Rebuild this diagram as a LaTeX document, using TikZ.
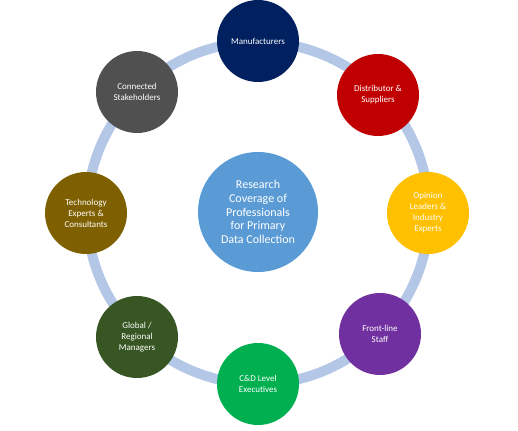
\documentclass[tikz,border=0pt]{standalone}
\usepackage{fontspec}
\setmainfont{Carlito}
\definecolor{ringc}{HTML}{B4C7E7}
\definecolor{cmanu}{HTML}{002060}
\definecolor{cdist}{HTML}{C00000}
\definecolor{copin}{HTML}{FFC000}
\definecolor{cfront}{HTML}{7030A0}
\definecolor{ccd}{HTML}{00B050}
\definecolor{cglob}{HTML}{375623}
\definecolor{ctech}{HTML}{7F6000}
\definecolor{cconn}{HTML}{505050}
\definecolor{ccent}{HTML}{5B9BD5}
\begin{document}
\begin{tikzpicture}[x=1pt,y=-1pt,
  member/.style={circle,minimum size=82pt,inner sep=0pt,text=white,align=center,
    font=\fontsize{9}{11}\selectfont},
  hub/.style={circle,minimum size=120pt,inner sep=0pt,text=white,align=center,
    fill=ccent,font=\fontsize{12}{13.8}\selectfont}]
\useasboundingbox (0,0) rectangle (518,430);
\coordinate (o) at (258,213);
\draw[ringc,line width=10pt] (o) circle[radius=171pt];
\node[hub] (center) at (258,212) {Research\\Coverage of\\Professionals\\for Primary\\Data Collection};
\node[member,fill=cmanu] (manu) at (258,41) {Manufacturers};
\node[member,fill=cdist] (dist) at (378,95) {Distributor \&\\Suppliers};
\node[member,fill=copin] (opin) at (428,213) {Opinion\\Leaders \&\\Industry\\Experts};
\node[member,fill=cfront] (front) at (380,334) {Front-line\\Staff};
\node[member,fill=ccd] (cd) at (258,384) {C\&D Level\\Executives};
\node[member,fill=cglob] (glob) at (137,337) {Global /\\Regional\\Managers};
\node[member,fill=ctech] (tech) at (86,213) {Technology\\Experts \&\\Consultants};
\node[member,fill=cconn] (conn) at (137,92) {Connected\\Stakeholders};
\end{tikzpicture}
\end{document}
